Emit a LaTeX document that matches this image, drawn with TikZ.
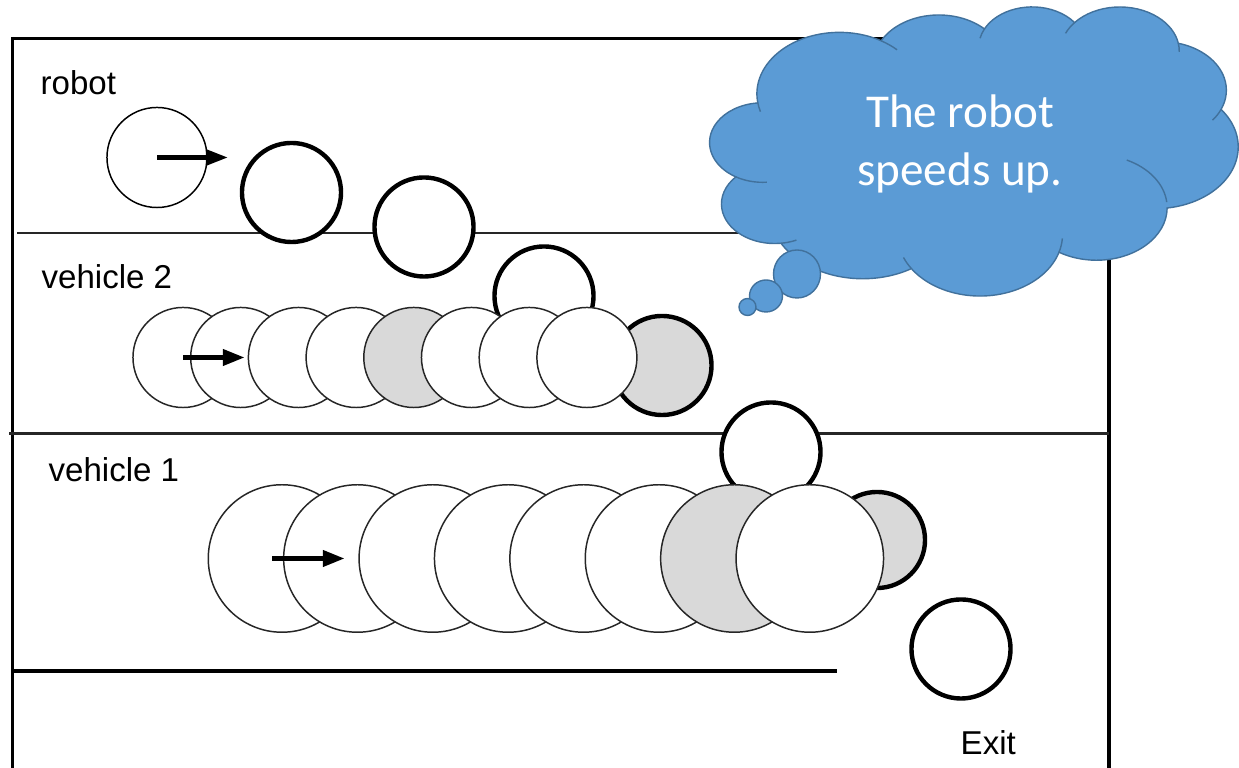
\documentclass[tikz,border=0pt]{standalone}
\usepackage{fontspec}
\setmainfont{Liberation Sans}
\newfontfamily\cloudfont{Carlito}
\usetikzlibrary{arrows.meta}
\definecolor{laneshade}{HTML}{D9D9D9}
\definecolor{cloudblue}{HTML}{5B9BD5}
\definecolor{cloudedge}{HTML}{41719C}

\begin{document}
\begin{tikzpicture}[x=0.01cm, y=-0.01cm,
  wall/.style={line width=1pt, black},
  lane/.style={line width=0.6pt, black!85},
  car/.style={circle, draw=black!85, line width=0.42pt, fill=white, inner sep=0pt, minimum size=#1},
  carshade/.style={car=#1, fill=laneshade},
  bot/.style={circle, draw=black, line width=1.25pt, fill=white, inner sep=0pt, minimum size=#1},
  botshade/.style={bot=#1, fill=laneshade},
  heading/.style={line width=1.5pt, -{Triangle[length=6.3pt, width=4.4pt]}},
  lbl/.style={inner sep=0pt, anchor=base west, font=\fontsize{9.4pt}{11pt}\selectfont},
  thought/.style={inner sep=0pt, anchor=base, text=white, font=\cloudfont\fontsize{13.4pt}{16pt}\selectfont},
  puff/.style={fill=cloudblue, draw=cloudedge, line width=0.4pt},
  crease/.style={draw=cloudedge, line width=0.4pt},
]
\useasboundingbox (0,0) rectangle (1239,768);

% walls and lane dividers
\draw[wall] (12.5,38.5) -- (900,38.5);
\draw[wall] (12.5,37) -- (12.5,768);
\draw[wall] (1109,200) -- (1109,768);
\draw[lane] (17,233) -- (1109,233);
\draw[lane] (9,433.5) -- (1109,433.5);
\draw[wall] (12,671) -- (837,671);

% lane labels
\node[lbl] (robotlbl) at (40,95) {robot};
\node[lbl] (veh2lbl) at (41,289) {vehicle 2};
\node[lbl] (veh1lbl) at (48,482) {vehicle 1};

% robot path, first part
\node[car=1cm, draw=black] (r0) at (157,157.5) {};
\coordinate (r0tip) at (228,157.5);
\draw[heading, line width=1.3pt] (r0.center) -- (r0tip);
\node[bot=0.99cm] (r1) at (291.5,192.5) {};
\node[bot=0.99cm] (r2) at (424,227) {};
\node[bot=0.99cm] (r3) at (544,296) {};

% vehicle 2
\node[botshade=0.99cm] (v2lead) at (662,365.5) {};
\node[car=1cm] (v2c1) at (183,357.5) {};
\node[car=1cm] (v2c2) at (240.7,357.5) {};
\node[car=1cm] (v2c3) at (298.4,357.5) {};
\node[car=1cm] (v2c4) at (356.1,357.5) {};
\node[carshade=1cm] (v2c5) at (413.8,357.5) {};
\node[car=1cm] (v2c6) at (471.5,357.5) {};
\node[car=1cm] (v2c7) at (529.2,357.5) {};
\node[car=1cm] (v2c8) at (586.9,357.5) {};
\coordinate (v2tip) at (245,357.5);
\draw[heading] (v2c1.center) -- (v2tip);

% robot crossing into lane 1
\node[bot=0.99cm] (r4) at (771,452) {};

% vehicle 1
\node[botshade=0.96cm] (v1lead) at (877,540) {};
\node[car=1.474cm] (v1c1) at (282,558.5) {};
\node[car=1.474cm] (v1c2) at (357.4,558.5) {};
\node[car=1.474cm] (v1c3) at (432.8,558.5) {};
\node[car=1.474cm] (v1c4) at (508.2,558.5) {};
\node[car=1.474cm] (v1c5) at (583.6,558.5) {};
\node[car=1.474cm] (v1c6) at (659,558.5) {};
\node[carshade=1.474cm] (v1c7) at (734.4,558.5) {};
\node[car=1.474cm] (v1c8) at (809.8,558.5) {};
\coordinate (v1tail) at (272,558.5);
\coordinate (v1tip) at (345,558.5);
\draw[heading] (v1tail) -- (v1tip);

% robot at the exit
\node[bot=0.99cm] (r5) at (961,649) {};
\node[lbl] (exitlbl) at (960,755) {Exit};

% thought cloud
\begin{scope}[shift={(710,6)}, xscale=1.2222, yscale=0.66898]
  \path[puff] (39.00,143.70)
    arc[start angle=172.255, end angle=300.37, x radius=67.53, y radius=91.90]
    arc[start angle=-152.03, end angle=-45.46, x radius=53.33, y radius=72.67]
    arc[start angle=-153.49, end angle=-37.33, x radius=43.65, y radius=59.45]
    arc[start angle=-139.72, end angle=-10.21, x radius=48.57, y radius=65.95]
    arc[start angle=-74.77, end angle=23.21, x radius=53.33, y radius=72.73]
    arc[start angle=-37.52, end angle=81.86, x radius=67.75, y radius=92.20]
    arc[start angle=0.46, end angle=121.97, x radius=57.85, y radius=78.67]
    arc[start angle=16.84, end angle=146.24, x radius=67.52, y radius=92.15]
    arc[start angle=58.98, end angle=150.19, x radius=77.20, y radius=105.43]
    arc[start angle=83.31, end angle=223.12, x radius=43.60, y radius=59.18]
    arc[start angle=120.34, end angle=264.11, x radius=43.45, y radius=59.45]
    -- cycle;
  % inner folds of the cloud
  \path[crease] (105.91,131.32) ++(163.19:67.53 and 91.90) arc[start angle=163.19, end angle=172.255, x radius=67.53, y radius=91.90];
  \path[crease] (105.91,131.32) ++(-59.63:67.53 and 91.90) arc[start angle=-59.63, end angle=-45.74, x radius=67.53, y radius=91.90];
  \path[crease] (263.61,60.84) ++(-167.73:43.65 and 59.45) arc[start angle=-167.73, end angle=-153.49, x radius=43.65, y radius=59.45];
  \path[crease] (335.37,67.43) ++(-156.3:48.57 and 65.95) arc[start angle=-156.3, end angle=-139.72, x radius=48.57, y radius=65.95];
  \path[crease] (335.37,67.43) ++(-10.21:48.57 and 65.95) arc[start angle=-10.21, end angle=0.9, x radius=48.57, y radius=65.95];
  \path[crease] (369.16,125.92) ++(23.21:53.33 and 72.73) arc[start angle=23.21, end angle=38, x radius=53.33, y radius=72.73];
  \path[crease] (316.18,301.37) ++(-64.6:57.85 and 78.67) arc[start angle=-64.6, end angle=-6, x radius=57.85, y radius=78.67];
  \path[crease] (220.93,341.40) ++(3.8:67.52 and 92.15) arc[start angle=3.8, end angle=16.84, x radius=67.52, y radius=92.15];
  \path[crease] (220.93,341.40) ++(146.24:67.52 and 92.15) arc[start angle=146.24, end angle=158, x radius=67.52, y radius=92.15];
  \path[crease] (52.95,295.90) ++(66:43.60 and 59.18) arc[start angle=66, end angle=83.31, x radius=43.60, y radius=59.18];
  \path[crease] (43.08,204.14) ++(85.5:43.45 and 59.45) arc[start angle=85.5, end angle=120.34, x radius=43.45, y radius=59.45];
\end{scope}
% trailing bubbles of the thought
\path[puff] (797,274) ellipse[x radius=23.5, y radius=24];
\path[puff] (766,296) ellipse[x radius=16.5, y radius=16];
\path[puff] (747.5,307) ellipse[x radius=8.5, y radius=8.5];
\node[thought] (thinkA) at (960,128) {The robot};
\node[thought] (thinkB) at (960,186) {speeds up.};
\end{tikzpicture}
\end{document}
